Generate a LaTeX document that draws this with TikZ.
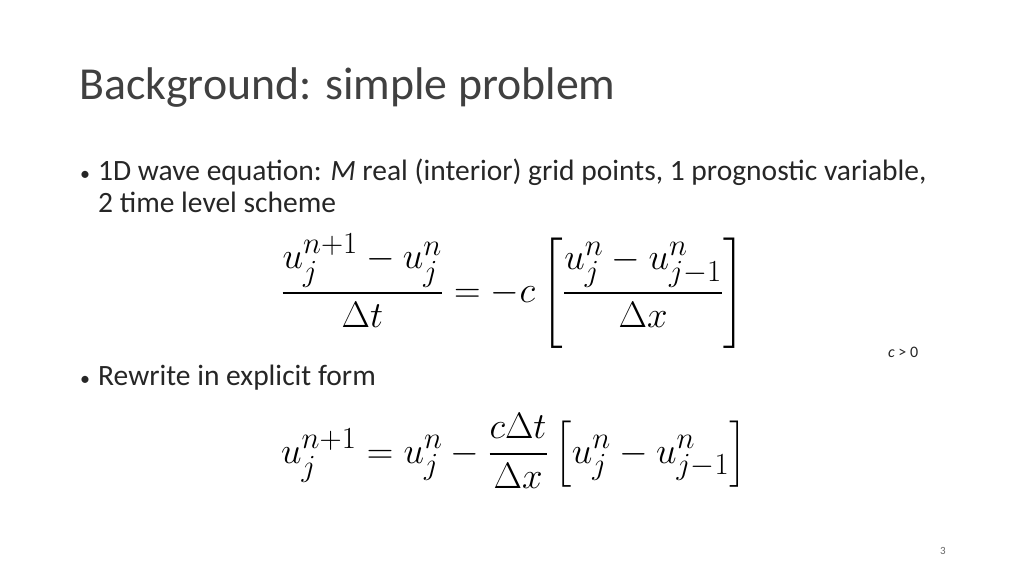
\documentclass[tikz,border=0pt]{standalone}
\usepackage{fontspec}
\setmainfont{Carlito}
\usepackage{amsmath}
\usepackage{graphicx}
\begin{document}
\begin{tikzpicture}[x=1pt,y=1pt]
\tikzset{txt/.style={anchor=base west,inner sep=0pt,text=black!85}}
\useasboundingbox (0,0) rectangle (1024,576);
\fill[white] (0,0) rectangle (1024,576);
\node[txt,font=\fontsize{45.8}{55}\selectfont,text=black!75] (title) at (79,576-100) {Background: simple problem};
\node[txt,font=\fontsize{20}{24}\selectfont] (b1) at (80,576-181) {•};
\node[txt,font=\fontsize{29.5}{35}\selectfont] (t1) at (98,576-181) {1D wave equation: \textit{M} real (interior) grid points, 1 prognostic variable,};
\node[txt,font=\fontsize{29.5}{35}\selectfont] (t1b) at (98,576-213) {2 time level scheme};
\node[inner sep=0pt,font=\fontsize{29}{35}\selectfont] (eq1) at (513,576-291) {\scalebox{1.48}{$\displaystyle \frac{u_j^{n+1}-u_j^n}{\Delta t} = -c\left[\frac{u_j^n-u_{j-1}^n}{\Delta x}\right]$}};
\node[txt,font=\fontsize{16}{19}\selectfont] (c) at (888,576-357) {\textit{c} > 0};
\node[txt,font=\fontsize{20}{24}\selectfont] (b2) at (80,576-385) {•};
\node[txt,font=\fontsize{29.5}{35}\selectfont] (t2) at (98,576-385) {Rewrite in explicit form};
\node[inner sep=0pt,font=\fontsize{29}{35}\selectfont] (eq2) at (514,576-451) {\scalebox{1.48}{$\displaystyle u_j^{n+1} = u_j^n - \frac{c\Delta t}{\Delta x}\left[u_j^n-u_{j-1}^n\right]$}};
\node[txt,font=\fontsize{11}{13}\selectfont,text=black!60] (pg) at (940,576-554) {3};
\end{tikzpicture}
\end{document}
